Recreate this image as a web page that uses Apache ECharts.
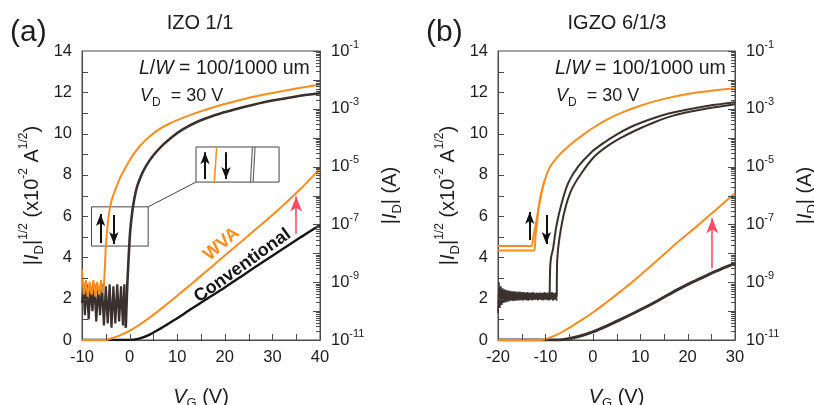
<!DOCTYPE html>
<html>
<head>
<meta charset="utf-8">
<script src="https://cdn.jsdelivr.net/npm/echarts@6/dist/echarts.min.js"></script>
<style>
  html, body { margin: 0; padding: 0; background: #fff; }
  #chart { width: 814px; height: 405px; }
</style>
</head>
<body>
<div id="chart"></div>
<script>
// ── Transfer curves: IZO 1/1 (a) vs IGZO 6/1/3 (b), WVA vs conventional ──────
(function () {
  'use strict';

  // ── Palette ────────────────────────────────────────────────────────────────
  var FONT   = "'Liberation Sans', Arial, Helvetica, sans-serif";
  var AXIS   = '#4a4a4a';
  var TXT    = '#1c1c1c';
  var ORANGE = '#f68d1f';
  var DARK   = '#3a302e';
  var BLACK  = '#151515';
  var RED    = '#ff4d66';

  // ── (a) IZO 1/1 : |ID|^1/2 (x10^-2 A^1/2) on left axis ───────────────────
  var aWvaNoiseV  = [-10, -9.6, -9.2, -8.8, -8.4, -8.0, -7.6, -7.2, -6.8, -6.4, -6.0, -5.7, -5.4];
  var aWvaNoise   = [3.4, 2.2, 2.9, 2.1, 2.8, 2.2, 2.9, 2.1, 2.8, 2.2, 2.9, 2.3, 2.6];
  var aWvaRiseV   = [-5.4, -5.2, -5.0, -4.6, -4.2, -3.6, -2.8, -2.0, -1.0, 0, 1, 2, 3, 4, 6, 8, 10, 14, 18, 22, 26, 30, 35, 40];
  var aWvaRise    = [2.6, 3.5, 4.5, 5.6, 6.3, 6.9, 7.4, 7.85, 8.3, 8.7, 9.05, 9.35, 9.6, 9.82, 10.18, 10.44, 10.65, 11.0, 11.3, 11.55, 11.78, 11.97, 12.18, 12.38];
  var aConvNoiseV = [-10, -9.7, -9.4, -9.0, -8.6, -8.2, -7.8, -7.4, -7.0, -6.6, -6.2, -5.8, -5.4, -5.0, -4.6, -4.2, -3.8, -3.4, -3.0, -2.6, -2.2, -1.8, -1.4, -1.1, -0.8];
  var aConvNoise  = [1.8, 2.6, 1.2, 2.7, 1.0, 2.6, 1.4, 2.7, 0.9, 2.6, 1.2, 2.7, 0.7, 2.6, 0.8, 2.7, 0.6, 2.6, 0.8, 2.7, 0.9, 2.6, 0.7, 2.7, 0.6];
  var aConvRiseV  = [-0.8, -0.5, -0.2, 0.1, 0.5, 1.0, 1.6, 2.5, 3.5, 5, 7, 9, 11, 14, 18, 22, 26, 30, 35, 40];
  var aConvRise   = [0.6, 2.6, 4.0, 5.2, 6.1, 6.85, 7.45, 8.0, 8.45, 8.95, 9.45, 9.85, 10.18, 10.55, 10.9, 11.17, 11.4, 11.6, 11.8, 11.95];

  // ── (a) log10 |ID| (A) on right axis ───────────────────────────────────────
  var aWvaLogV   = [-10, -5, -4, -2, 0, 2, 4, 6, 8, 10, 13, 16, 20, 24, 28, 32, 36, 40];
  var aWvaLog    = [-11, -11, -10.95, -10.84, -10.68, -10.48, -10.25, -10.0, -9.74, -9.47, -9.06, -8.64, -8.08, -7.52, -6.96, -6.38, -5.76, -5.08];
  var aConvLogV  = [-10, 0, 2, 4, 6, 8, 10, 13, 16, 20, 24, 28, 32, 36, 40];
  var aConvLog   = [-11, -11, -10.95, -10.83, -10.65, -10.45, -10.25, -9.92, -9.6, -9.18, -8.74, -8.3, -7.87, -7.44, -7.02];

  // ── (b) IGZO 6/1/3 : |ID|^1/2 ────────────────────────────────────────────
  var bWvaHiV    = [-20, -13, -12.6, -12.0, -11.5, -11.0, -10.2, -9, -7.5, -6, -4, -2, 0, 3, 6, 10, 15, 20, 25, 30];
  var bWvaHi     = [4.55, 4.55, 4.95, 5.65, 6.3, 6.95, 7.7, 8.4, 8.85, 9.2, 9.6, 9.95, 10.27, 10.68, 11.0, 11.35, 11.68, 11.92, 12.07, 12.2];
  var bWvaLoV    = [-20, -12.4, -12.1, -11.8, -11.5, -11.0, -10.2];
  var bWvaLo     = [4.33, 4.33, 5.0, 5.6, 6.25, 6.95, 7.7];
  var bNoiseV0   = -20, bNoiseStep = 0.2;   // off-state sampling of the dark sweeps
  var bNoise     = [1.3, 2.8, 1.55, 2.6, 1.7, 2.5, 1.8, 2.45, 1.82, 2.42,
                    1.85, 2.4, 1.88, 2.38, 1.9, 2.36, 1.88, 2.36, 1.9, 2.34,
                    1.9, 2.33, 1.92, 2.34, 1.93, 2.32, 1.9, 2.32, 1.94, 2.3,
                    1.92, 2.32, 1.9, 2.3, 1.94, 2.3, 1.92, 2.32, 1.94, 2.28,
                    1.95, 2.3, 1.92, 2.28, 1.95, 2.3, 1.93, 2.28, 1.92, 2.32,
                    1.95, 2.28, 1.93, 2.3, 1.92, 2.28, 1.95, 2.32, 1.9, 2.28,
                    1.95, 2.3, 1.9];
  var bConvUpV   = [-9.1, -9.0, -8.8, -8.4, -7.7, -6.6, -5.2, -3.1, -0.3, 2, 5, 8, 12, 16, 20, 25, 30];
  var bConvUp    = [2.1, 3.5, 4.0, 4.4, 5.5, 6.6, 7.6, 8.4, 9.1, 9.5, 9.95, 10.32, 10.68, 10.97, 11.17, 11.37, 11.52];
  var bConvDnV   = [-7.6, -7.5, -7.0, -5.9, -4.5, -2.4, 0.4, 3, 6, 9, 13, 17, 21, 25, 30];
  var bConvDn    = [2.1, 3.9, 5.0, 6.3, 7.27, 8.08, 8.9, 9.38, 9.8, 10.15, 10.55, 10.87, 11.08, 11.25, 11.42];

  // ── (b) log10 |ID| ─────────────────────────────────────────────────────────
  var bWvaLogV   = [-20, -11, -10, -8, -6, -4, -2, 0, 2, 4, 6, 8, 10, 12, 15, 18, 22, 26, 30];
  var bWvaLog    = [-11, -11, -10.97, -10.85, -10.68, -10.48, -10.27, -10.05, -9.81, -9.56, -9.3, -9.04, -8.76, -8.47, -8.04, -7.6, -7.06, -6.49, -5.92];
  var bConvLogV  = [-20, -9, -6, -3, 0, 3, 6, 9, 12, 15, 18, 21, 24, 27, 30];
  var bConvLog   = [-11, -11, -10.98, -10.88, -10.72, -10.51, -10.28, -10.04, -9.79, -9.52, -9.25, -9.0, -8.77, -8.55, -8.35];

  // ── Annotations (data coords on the left axis) ─────────────────────────────
  var aBlackArrows = [[-6.1, 4.7, 6.1], [-3.3, 6.05, 4.65], [15.85, 7.8, 9.1], [20.25, 9.1, 7.8]];
  var bBlackArrows = [[-13.3, 4.85, 6.2], [-9.8, 6.05, 4.65]];
  var aRedArrow    = [[35, 5.15, 6.95]];
  var bRedArrow    = [[25.2, 3.47, 5.9]];
  var aInsetBoxes  = [[-8.0, 6.45, 3.9, 4.55], [13.95, 9.35, 31.4, 7.65]];
  var aInsetLines  = [[17.8, 7.65, 18.3, 9.35, ORANGE, 1.5], [25.4, 7.65, 25.8, 9.35, '#666', 1.2],
                      [25.95, 7.65, 26.35, 9.35, '#666', 1.2], [3.9, 6.45, 13.95, 7.65, '#444', 1]];
  var aCurveLabels = [{ text: 'WVA', v: 19.35, y: 4.65, angle: 41, color: ORANGE },
                      { text: 'Conventional', v: 23.7, y: 3.6, angle: 35.5, color: BLACK }];

  // ── Helpers ────────────────────────────────────────────────────────────────
  function zip(xs, ys) { return xs.map(function (x, i) { return [x, ys[i]]; }); }
  function sampled(x0, step, ys) {
    return ys.map(function (y, i) { return [+(x0 + i * step).toFixed(2), y]; });
  }

  function line(xi, yi, data, color, width, z, smooth) {
    return {
      type: 'line', xAxisIndex: xi, yAxisIndex: yi, data: data,
      symbol: 'none', showSymbol: false, silent: true, z: z || 2,
      smooth: smooth || false,
      lineStyle: { color: color, width: width }, itemStyle: { color: color },
      emphasis: { disabled: true }, animation: false
    };
  }

  function arrowLines(list, color, width, size) {
    return {
      silent: true, symbol: ['none', 'arrow'], symbolSize: size, label: { show: false },
      lineStyle: { color: color, width: width, type: 'solid' }, emphasis: { disabled: true },
      animation: false,
      data: list.map(function (a) { return [{ coord: [a[0], a[1]] }, { coord: [a[0], a[2]] }]; })
    };
  }

  var lineStyle = { color: AXIS, width: 1 };
  var supRich = { fontSize: 11, lineHeight: 11, verticalAlign: 'top', color: TXT, fontFamily: FONT };
  var subRich = { fontSize: 13, lineHeight: 13, verticalAlign: 'bottom', color: TXT, fontFamily: FONT };
  var itRich  = { fontStyle: 'italic', fontSize: 20, color: TXT, fontFamily: FONT };

  // ticks are drawn below as graphic lines (inside ticks on every edge)
  function xAxis(gi, min, max) {
    return {
      type: 'value', gridIndex: gi, min: min, max: max, interval: 10,
      axisLine: { show: true, onZero: false, lineStyle: lineStyle },
      axisTick: { show: false }, minorTick: { show: false },
      splitLine: { show: false }, minorSplitLine: { show: false },
      axisLabel: { color: TXT, fontSize: 16.5, fontFamily: FONT, margin: 9 },
      name: '{it|V}{sub|G} (V)', nameLocation: 'middle', nameGap: 44,
      nameTextStyle: { fontSize: 20, fontFamily: FONT, color: TXT, lineHeight: 26,
        rich: { it: itRich, sub: subRich } }
    };
  }

  function ySqrtAxis(gi) {
    return {
      type: 'value', gridIndex: gi, position: 'left', min: 0, max: 14, interval: 2,
      axisLine: { show: true, onZero: false, lineStyle: lineStyle },
      axisTick: { show: false }, minorTick: { show: false },
      splitLine: { show: false }, minorSplitLine: { show: false },
      axisLabel: { color: TXT, fontSize: 16.5, fontFamily: FONT, margin: 10 },
      name: '|{it|I}{sub|D}|{sup|1/2} (x10{sup|-2} A{sup|1/2})',
      nameLocation: 'middle', nameRotate: 90, nameGap: 36,
      nameTextStyle: { fontSize: 20, fontFamily: FONT, color: TXT, lineHeight: 28,
        rich: { it: itRich, sub: subRich, sup: { fontSize: 12, lineHeight: 12, verticalAlign: 'top', color: TXT, fontFamily: FONT } } }
    };
  }

  function yLogAxis(gi) {
    return {
      type: 'value', gridIndex: gi, position: 'right', min: -11, max: -1, interval: 1,
      axisLine: { show: true, onZero: false, lineStyle: lineStyle },
      axisTick: { show: false }, splitLine: { show: false },
      axisLabel: {
        color: TXT, fontSize: 16.5, fontFamily: FONT, margin: 11, lineHeight: 24,
        formatter: function (v) { return Math.abs(v) % 2 === 1 ? '10{sup|' + v + '}' : ''; },
        rich: { sup: supRich }
      },
      name: '|{it|I}{sub|D}| (A)', nameLocation: 'middle', nameRotate: 90, nameGap: 56,
      nameTextStyle: { fontSize: 20, fontFamily: FONT, color: TXT, lineHeight: 28,
        rich: { it: itRich, sub: subRich } }
    };
  }

  // ── Series ─────────────────────────────────────────────────────────────────
  var aWvaNoiseSeries = line(0, 0, zip(aWvaNoiseV, aWvaNoise), ORANGE, 2, 5);
  var aWvaRiseSeries  = line(0, 0, zip(aWvaRiseV, aWvaRise), ORANGE, 2, 5, 0.25);
  aWvaRiseSeries.markLine = arrowLines(aBlackArrows, '#111', 2, [7, 12]);

  var aConvNoiseSeries = line(0, 0, zip(aConvNoiseV, aConvNoise), DARK, 2.2, 4);
  var aConvRiseSeries  = line(0, 0, zip(aConvRiseV, aConvRise), DARK, 2.6, 4, 0.25);
  aConvRiseSeries.markLine = {
    silent: true, symbol: 'none', label: { show: false }, animation: false, emphasis: { disabled: true },
    data: aInsetLines.map(function (l) {
      return [{ coord: [l[0], l[1]], lineStyle: { color: l[4], width: l[5], type: 'solid' } },
              { coord: [l[2], l[3]] }];
    })
  };
  aConvRiseSeries.markArea = {
    silent: true, animation: false, label: { show: false },
    itemStyle: { color: 'rgba(0,0,0,0)', borderColor: '#444', borderWidth: 1 },
    data: aInsetBoxes.map(function (b) { return [{ coord: [b[0], b[1]] }, { coord: [b[2], b[3]] }]; })
  };

  var aWvaLogSeries  = line(0, 1, zip(aWvaLogV, aWvaLog), ORANGE, 2, 5, 0.25);
  var aConvLogSeries = line(0, 1, zip(aConvLogV, aConvLog), BLACK, 2.4, 4, 0.25);
  var aRedHost = line(0, 0, [], RED, 1.6, 6);
  aRedHost.markLine = arrowLines(aRedArrow, RED, 1.6, [9, 15]);

  var bWvaHiSeries = line(1, 2, zip(bWvaHiV, bWvaHi), ORANGE, 2, 5, 0.25);
  bWvaHiSeries.markLine = arrowLines(bBlackArrows, '#111', 2, [7, 12]);
  var bWvaLoSeries   = line(1, 2, zip(bWvaLoV, bWvaLo), ORANGE, 2, 5, 0.25);
  var bNoiseSeries   = line(1, 2, sampled(bNoiseV0, bNoiseStep, bNoise), DARK, 1.6, 4);
  var bConvUpSeries  = line(1, 2, zip(bConvUpV, bConvUp), DARK, 2, 4, 0.25);
  var bConvDnSeries  = line(1, 2, zip(bConvDnV, bConvDn), DARK, 2, 4, 0.25);
  var bWvaLogSeries  = line(1, 3, zip(bWvaLogV, bWvaLog), ORANGE, 2, 5, 0.25);
  var bConvLogSeries = line(1, 3, zip(bConvLogV, bConvLog), DARK, 3, 4, 0.25);
  var bRedHost = line(1, 2, [], RED, 1.6, 6);
  bRedHost.markLine = arrowLines(bRedArrow, RED, 1.6, [9, 15]);

  var option = {
    animation: false,
    backgroundColor: '#ffffff',
    textStyle: { fontFamily: FONT },
    grid: [
      { left: 82, top: 51, width: 238, height: 289, show: true, borderColor: AXIS, borderWidth: 1,
        backgroundColor: 'transparent', containLabel: false, outerBoundsMode: 'none' },
      { left: 498, top: 51, width: 237, height: 289, show: true, borderColor: AXIS, borderWidth: 1,
        backgroundColor: 'transparent', containLabel: false, outerBoundsMode: 'none' }
    ],
    xAxis: [xAxis(0, -10, 40), xAxis(1, -20, 30)],
    yAxis: [ySqrtAxis(0), yLogAxis(0), ySqrtAxis(1), yLogAxis(1)],
    series: [
      aConvLogSeries, aWvaLogSeries, aConvNoiseSeries, aConvRiseSeries, aWvaNoiseSeries, aWvaRiseSeries, aRedHost,
      bConvLogSeries, bWvaLogSeries, bNoiseSeries, bConvUpSeries, bConvDnSeries,
      bWvaLoSeries, bWvaHiSeries, bRedHost
    ]
  };

  var chart = echarts.init(document.getElementById('chart'), null, { renderer: 'canvas' });
  chart.setOption(option);

  // ── Text overlays ──────────────────────────────────────────────────────────
  function plain(x, y, text, size, align) {
    return { type: 'text', silent: true, x: x, y: y,
      style: { text: text, fontSize: size, fontFamily: FONT, fill: TXT, align: align || 'left', verticalAlign: 'middle' } };
  }
  function richText(x, y, text, size) {
    return { type: 'text', silent: true, x: x, y: y,
      style: { text: text, fontSize: size, fontFamily: FONT, fill: TXT, align: 'left', verticalAlign: 'middle', lineHeight: 26,
        rich: { it: { fontStyle: 'italic', fontSize: size, fontFamily: FONT, fill: TXT, lineHeight: 26 },
                sub: { fontSize: 12, fontFamily: FONT, fill: TXT, lineHeight: 12, verticalAlign: 'bottom' } } } };
  }

  var graphics = [
    plain(10, 33, '(a)', 30), plain(200, 23, 'IZO 1/1', 20, 'center'),
    plain(426, 33, '(b)', 30), plain(617, 23, 'IGZO 6/1/3', 20, 'center'),
    richText(139, 69, '{it|L}/{it|W} = 100/1000 um', 19.5), richText(140, 96, '{it|V}{sub|D}  = 30 V', 18),
    richText(555, 69, '{it|L}/{it|W} = 100/1000 um', 19.5), richText(556, 96, '{it|V}{sub|D}  = 30 V', 18)
  ];
  aCurveLabels.forEach(function (c) {
    var p = chart.convertToPixel({ xAxisIndex: 0, yAxisIndex: 0 }, [c.v, c.y]);
    graphics.push({ type: 'text', silent: true, x: p[0], y: p[1], rotation: c.angle * Math.PI / 180,
      style: { text: c.text, fontSize: 18, fontWeight: 'bold', fontFamily: FONT, fill: c.color,
        align: 'center', verticalAlign: 'middle' } });
  });

  // ── Inside ticks, positioned through each axis' own scale ──────────────────
  function tick(x1, y1, x2, y2) {
    return { type: 'line', silent: true, z: 50, shape: { x1: x1, y1: y1, x2: x2, y2: y2 },
      style: { stroke: AXIS, lineWidth: 1 } };
  }
  var panels = [
    { xi: 0, ys: 0, yl: 1, xmin: -10, xmax: 40 },
    { xi: 1, ys: 2, yl: 3, xmin: -20, xmax: 30 }
  ];
  panels.forEach(function (p) {
    var xl = Math.round(chart.convertToPixel({ xAxisIndex: p.xi }, p.xmin));
    var xr = Math.round(chart.convertToPixel({ xAxisIndex: p.xi }, p.xmax));
    var yb = Math.round(chart.convertToPixel({ yAxisIndex: p.ys }, 0));
    var v, k, px;
    for (v = p.xmin + 5; v < p.xmax; v += 5) {          // bottom: every 5 V
      px = Math.round(chart.convertToPixel({ xAxisIndex: p.xi }, v)) + 0.5;
      graphics.push(tick(px, yb, px, yb - 6));
    }
    for (v = 1; v < 14; v++) {                          // left: every unit
      px = Math.round(chart.convertToPixel({ yAxisIndex: p.ys }, v)) + 0.5;
      graphics.push(tick(xl, px, xl + 6, px));
    }
    for (v = -11; v <= -1; v++) {                       // right: decades + log minors
      px = Math.round(chart.convertToPixel({ yAxisIndex: p.yl }, v)) + 0.5;
      graphics.push(tick(xr - 7, px, xr, px));
      if (v === -1) break;
      for (k = 2; k <= 9; k++) {
        px = Math.round(chart.convertToPixel({ yAxisIndex: p.yl }, v + Math.log10(k))) + 0.5;
        graphics.push(tick(xr - 4, px, xr, px));
      }
    }
  });
  chart.setOption({ graphic: graphics });
})();
</script>
</body>
</html>
